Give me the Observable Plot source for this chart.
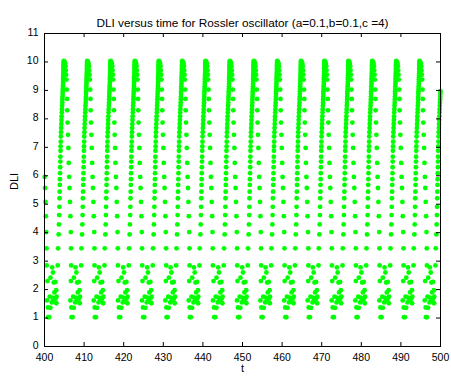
<!DOCTYPE html>
<html>
<head>
<meta charset="utf-8">
<script src="https://cdn.jsdelivr.net/npm/d3@7"></script>
<script src="https://cdn.jsdelivr.net/npm/@observablehq/plot@0.6"></script>
<style>
  html, body { margin: 0; padding: 0; background: #fff; }
  #chart { width: 451px; height: 376px; }
</style>
</head>
<body>
<div id="chart"></div>
<script>
const titleText = "DLI versus time for Rossler oscillator (a=0.1,b=0.1,c =4)";
const xLabel = "t";
const yLabel = "DLI";
const xTicks = [400, 410, 420, 430, 440, 450, 460, 470, 480, 490, 500];
const yTicks = [0, 1, 2, 3, 4, 5, 6, 7, 8, 9, 10, 11];

// times of the top of each rising column
const cyclePeaks = [398.68, 404.87, 410.78, 416.67, 422.80, 428.86, 434.77, 440.66,
  446.79, 452.85, 458.76, 464.77, 470.71, 476.77, 482.75, 488.81, 494.70, 500.25];

// rising column: time offset from peak, DLI value
const riseOffsets = [-1.52, -1.45, -1.30, -1.22, -1.16, -1.12, -1.08, -1.04, -1.00, -0.97,
  -0.94, -0.91, -0.88, -0.86, -0.83, -0.80, -0.77, -0.74, -0.70, -0.66, -0.62, -0.58,
  -0.54, -0.50, -0.46, -0.42, -0.38, -0.35, -0.32, -0.29, -0.26, -0.23, -0.20, -0.18,
  -0.16, -0.14, -0.12, -0.10, -0.08, -0.07, -0.06, -0.05, -0.04, -0.03, -0.02, -0.01,
  0.00, 0.01];
const riseValues = [2.85, 3.45, 3.94, 4.29, 4.62, 4.91, 5.21, 5.44, 5.68, 5.88,
  6.09, 6.30, 6.50, 6.67, 6.88, 7.03, 7.20, 7.38, 7.53, 7.68, 7.82, 7.96,
  8.09, 8.22, 8.34, 8.46, 8.57, 8.68, 8.78, 8.88, 8.97, 9.06, 9.15, 9.23,
  9.31, 9.39, 9.46, 9.53, 9.60, 9.66, 9.72, 9.78, 9.83, 9.88, 9.93, 9.97,
  10.01, 10.04];

// falling branch after the peak
const fallOffsets = [0.20, 0.33, 0.43, 0.51, 0.58, 0.68, 0.76, 0.83, 0.88, 0.96,
  1.06, 1.16, 1.26, 1.36, 1.46, 1.57, 1.67, 1.77, 1.84, 1.87];
const fallValues = [10.0, 9.95, 9.85, 9.70, 9.55, 9.38, 9.03, 8.70, 8.30, 7.87,
  7.44, 6.98, 6.45, 5.96, 5.57, 5.08, 4.58, 4.02, 3.45, 2.85];

// low wiggly cluster before the next rise (offsets from that next peak)
const clusterOffsets = [-4.12, -4.24, -3.99, -3.94, -3.69, -3.54, -3.38, -3.36, -3.03,
  -2.93, -2.88, -2.73, -2.53, -2.58, -2.37, -2.12, -2.10, -1.92, -1.87, -1.82];
const clusterValues = [2.30, 1.62, 1.37, 1.03, 1.03, 1.75, 1.36, 2.42, 1.55,
  2.78, 1.72, 2.60, 2.25, 1.62, 1.90, 2.27, 1.68, 1.98, 1.52, 1.75];

const data = cyclePeaks.flatMap(p => [
  ...riseOffsets.map((o, i) => ({t: p + o, v: riseValues[i]})),
  ...fallOffsets.map((o, i) => ({t: p + o, v: fallValues[i]})),
  ...clusterOffsets.map((o, i) => ({t: p + o, v: clusterValues[i]}))
]).filter(d => d.t >= 400 && d.t <= 500);

const W = 451, H = 376, ML = 44, MR = 11, MT = 33, MB = 30;
const fw = W - ML - MR, fh = H - MT - MB;

const chart = Plot.plot({
  width: W, height: H,
  marginLeft: ML, marginRight: MR, marginTop: MT, marginBottom: MB,
  x: {domain: [400, 500]},
  y: {domain: [0, 11]},
  style: {fontFamily: "'Liberation Sans', Arial, sans-serif", fontSize: "10.5px", background: "white", color: "black"},
  marks: [
    Plot.dot(data, {x: "t", y: "v", r: 2.4, fill: "#00ff00", stroke: null}),
    Plot.frame({stroke: "black", strokeWidth: 1}),
    Plot.ruleX(xTicks, {insetTop: fh - 4, stroke: "black"}),
    Plot.ruleX(xTicks, {insetBottom: fh - 4, stroke: "black"}),
    Plot.ruleY(yTicks, {insetRight: fw - 4, stroke: "black"}),
    Plot.ruleY(yTicks, {insetLeft: fw - 4, stroke: "black"}),
    Plot.axisX(xTicks, {tickSize: 0, tickPadding: 7, label: null}),
    Plot.axisY(yTicks, {tickSize: 0, tickPadding: 6, dy: -1, label: null}),
    Plot.text([xLabel], {frameAnchor: "bottom", dy: 25.5, fontSize: 11}),
    Plot.text([yLabel], {frameAnchor: "left", dx: -30, rotate: -90, fontSize: 11}),
    Plot.text([titleText], {frameAnchor: "top", dy: -15, fontSize: 11.8})
  ]
});
document.getElementById("chart").appendChild(chart);
</script>
</body>
</html>
